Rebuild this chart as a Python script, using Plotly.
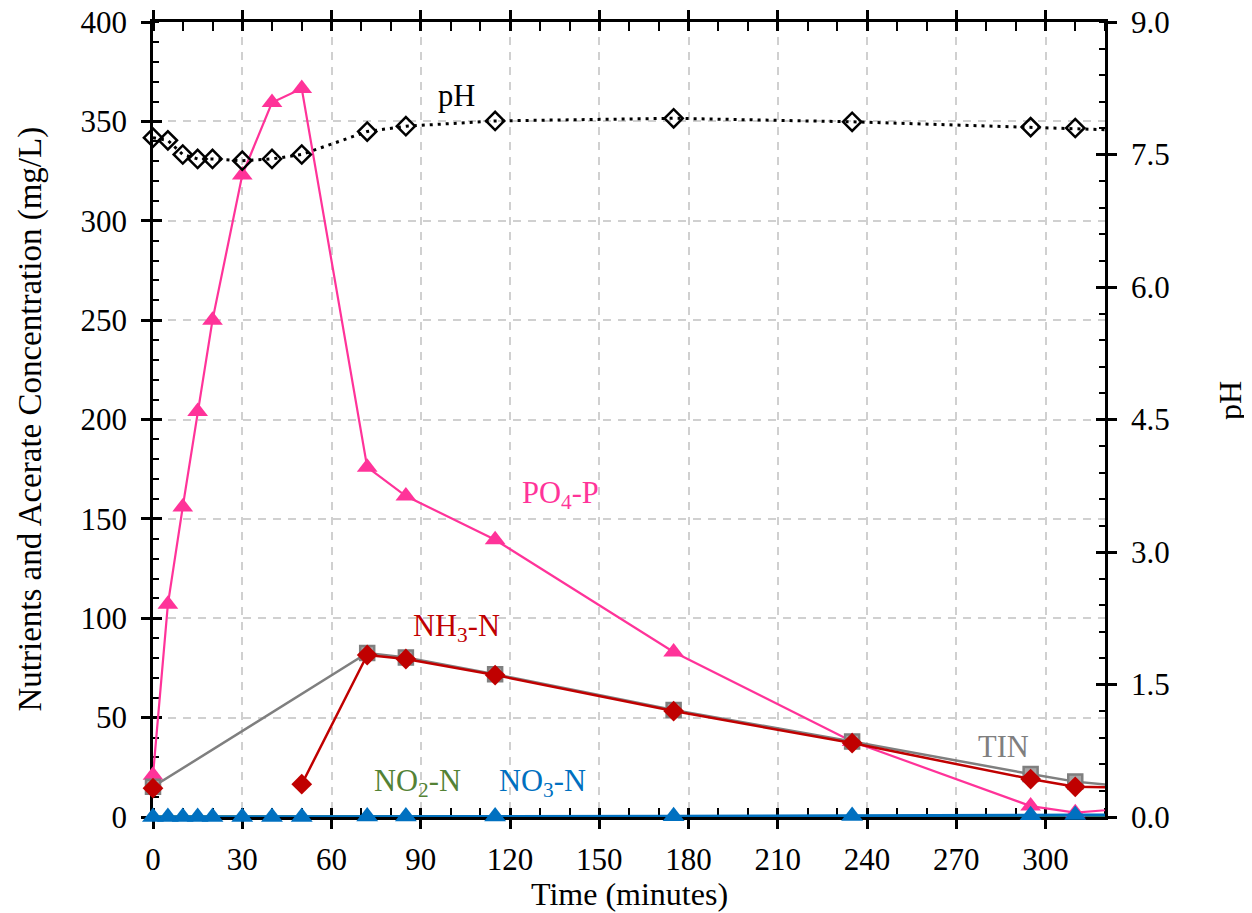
import plotly.graph_objects as go

# ---------------- data ----------------
time_min = [0, 5, 10, 15, 20, 30, 40, 50, 72, 85, 115, 175, 235, 295, 310, 330]
po4_p = [21, 107, 156, 204, 250, 323, 359.5, 366.5, 176, 161.5, 139.5, 83, 38, 5.5, 2.2, 4.6]
ph_vals = [7.69, 7.66, 7.50, 7.45, 7.45, 7.43, 7.45, 7.50, 7.76, 7.82, 7.88, 7.91, 7.87, 7.81, 7.80, 7.77]
nh3_n = [14.5, None, None, None, None, None, None, 16.5, 81.5, 79.5, 71.4, 53.3, 37.2, 19.1, 15.2, 14.8]
tin = [15.2, None, None, None, None, None, None, None, 82.5, 80.3, 71.8, 53.8, 38.0, 21.6, 17.8, 15.0]
no2_n = [0.1, 0.1, 0.1, 0.1, 0.1, 0.1, 0.1, 0.1, 0.2, 0.2, 0.2, 0.2, 0.3, 0.4, 0.4, 0.4]
no3_n = [0, 0, 0, 0, 0, 0, 0, 0, 0.3, 0.3, 0.3, 0.4, 0.5, 0.9, 1.0, 1.1]

x_range = [0, 320]
y_range = [0, 400]
ph_range = [0, 9]

FONT = "Liberation Serif"
FS_TICK = 31
FS_TITLE = 32
FS_ANN = 30.5


def visible(vals):
    """points inside the x range (markers are only drawn there)"""
    xs, ys = [], []
    for t, v in zip(time_min, vals):
        if t <= x_range[1] and v is not None:
            xs.append(t)
            ys.append(v)
    return xs, ys


fig = go.Figure()


def add_series(vals, color, lw, symbol=None, msize=0, mcolor=None, mline=None,
               dash="solid", yaxis="y", connectgaps=False):
    fig.add_trace(go.Scatter(x=time_min, y=vals, mode="lines", yaxis=yaxis,
                             connectgaps=connectgaps, line=dict(color=color, width=lw, dash=dash),
                             hoverinfo="skip"))
    if symbol:
        xs, ys = visible(vals)
        fig.add_trace(go.Scatter(x=xs, y=ys, mode="markers", yaxis=yaxis,
                                 marker=dict(symbol=symbol, size=msize, color=mcolor or color,
                                             line=mline or dict(width=0)),
                                 cliponaxis=False))


add_series(no2_n, "#548235", 3)
add_series(po4_p, "#FF3399", 2.2, "triangle-up", 18)
add_series(tin, "#7F7F7F", 2.5, "square", 14, "#A6A6A6", dict(color="#7F7F7F", width=2.5),
           connectgaps=True)
add_series(nh3_n, "#C00000", 2.5, "diamond", 16)
add_series(no3_n, "#0070C0", 3, "triangle-up", 19)
add_series(ph_vals, "black", 3, "diamond-open", 14, "black", dict(color="black", width=2.5),
           dash="3px,5px", yaxis="y2")

# dummy traces so that overlay tick axes render
fig.add_trace(go.Scatter(x=[None], y=[None], xaxis="x2", yaxis="y3", showlegend=False, hoverinfo="skip"))
fig.add_trace(go.Scatter(x=[None], y=[None], yaxis="y4", showlegend=False, hoverinfo="skip"))

tickfont = dict(family=FONT, size=FS_TICK, color="black")
grid = dict(showgrid=True, gridcolor="#D0D0D0", gridwidth=1.5, griddash="8px,7px")
common = dict(automargin=False, layer="below traces", zeroline=False)

fig.update_layout(
    width=1252, height=913,
    margin=dict(l=145, r=155, t=14, b=104),
    paper_bgcolor="white", plot_bgcolor="white",
    showlegend=False,
    font=dict(family=FONT, size=FS_TICK, color="black"),
    xaxis=dict(range=x_range, dtick=30, tick0=0, **common,
               showline=True, linecolor="black", linewidth=2.5, mirror="allticks",
               ticks="outside", ticklen=9, tickwidth=2.5, tickcolor="black",
               minor=dict(ticks="inside", dtick=10, ticklen=6, tickwidth=2, tickcolor="black", showgrid=False),
               tickfont=tickfont, ticklabelstandoff=4, ticklabeloverflow="allow",
               **grid),
    xaxis2=dict(overlaying="x", matches="x", anchor="y", side="bottom", range=x_range, dtick=30, tick0=0,
                showline=True, linecolor="black", linewidth=2.5, mirror="allticks", **common,
                ticks="inside", ticklen=9, tickwidth=2.5, tickcolor="black",
                showticklabels=False, showgrid=False),
    yaxis=dict(range=y_range, dtick=50, tick0=0, **common,
               showline=True, linecolor="black", linewidth=2.5,
               ticks="outside", ticklen=9, tickwidth=2.5, tickcolor="black",
               minor=dict(ticks="inside", dtick=10, ticklen=6, tickwidth=2, tickcolor="black", showgrid=False),
               tickfont=tickfont, ticklabelstandoff=8, ticklabeloverflow="allow",
               **grid),
    yaxis3=dict(overlaying="y", anchor="x", side="left", range=y_range, dtick=50, tick0=0, **common,
                showline=False, ticks="inside", ticklen=9, tickwidth=2.5, tickcolor="black",
                showticklabels=False, showgrid=False),
    yaxis2=dict(overlaying="y", anchor="x", side="right", range=ph_range, dtick=1.5, tick0=0,
                tickformat=".1f", showgrid=False, **common,
                showline=True, linecolor="black", linewidth=2.5,
                ticks="outside", ticklen=9, tickwidth=2.5, tickcolor="black",
                minor=dict(ticks="inside", dtick=0.3, ticklen=6, tickwidth=2, tickcolor="black", showgrid=False),
                tickfont=tickfont, ticklabelstandoff=8, ticklabeloverflow="allow"),
    yaxis4=dict(overlaying="y", anchor="x", side="right", range=ph_range, dtick=1.5, tick0=0, **common,
                showline=False, ticks="inside", ticklen=9, tickwidth=2.5, tickcolor="black",
                showticklabels=False, showgrid=False),
)

# axis titles
fig.add_annotation(text="Time (minutes)", xref="paper", yref="paper", x=0.5, y=-0.097,
                   xanchor="center", yanchor="middle", showarrow=False,
                   font=dict(family=FONT, size=FS_TITLE, color="black"))
fig.add_annotation(text="Nutrients and Acerate Concentration (mg/L)", xref="paper", yref="paper",
                   x=-0.1292, y=0.5, textangle=-90, xanchor="center", yanchor="middle", showarrow=False,
                   font=dict(family=FONT, size=33, color="black"))
fig.add_annotation(text="pH", xref="paper", yref="paper", x=1.1313, y=0.5245, textangle=-90,
                   xanchor="center", yanchor="middle", showarrow=False,
                   font=dict(family=FONT, size=FS_TITLE, color="black"))

ann = [
    ("pH", 102, 363, "black"),
    ("PO<sub>4</sub>-P", 137, 162, "#FF3399"),
    ("NH<sub>3</sub>-N", 102, 95, "#C00000"),
    ("TIN", 286, 35, "#7F7F7F"),
    ("NO<sub>2</sub>-N", 89, 17, "#548235"),
    ("NO<sub>3</sub>-N", 131, 17, "#0070C0"),
]
for text, x, y, c in ann:
    fig.add_annotation(x=x, y=y, xref="x", yref="y", text=text, showarrow=False,
                       font=dict(family=FONT, size=FS_ANN, color=c))

fig.write_html("out.html")
